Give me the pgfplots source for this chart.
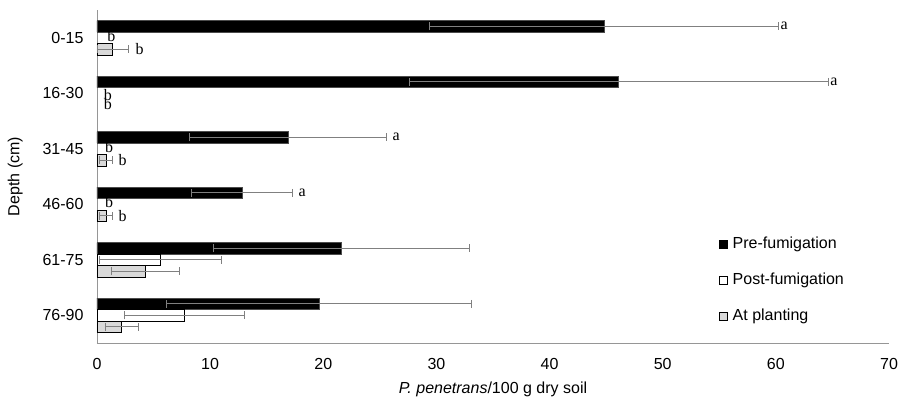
\documentclass[border=0pt]{standalone}
\usepackage{fontspec}
\setmainfont{Liberation Sans}
\newfontfamily\serifletters{Liberation Serif}
\usepackage{pgfplots}
\usepackage{pgfplotstable}
\pgfplotsset{compat=1.18}
\definecolor{errgray}{RGB}{128,128,128}
\definecolor{axgray}{RGB}{150,150,150}
\definecolor{plantgray}{RGB}{217,217,217}
% zero-valued bars (post-fumigation 0-60 cm, at planting 16-30 cm) are omitted
\pgfplotstableread{
y v e
0 44.8 15.4
1 46.1 18.5
2 16.9 8.7
3 12.8 4.5
4 21.6 11.3
5 19.6 13.5
}\pre
\pgfplotstableread{
y v e
4 5.6 5.4
5 7.7 5.3
}\post
\pgfplotstableread{
y v e
0 1.4 1.4
2 0.8 0.6
3 0.8 0.6
4 4.3 3.0
5 2.2 1.5
}\plant
\begin{document}
\fontsize{16}{19}\selectfont
\begin{tikzpicture}
\begin{axis}[
  scale only axis, width=792pt, height=333pt,
  xmin=0, xmax=70, ymin=-0.5, ymax=5.5, y dir=reverse,
  xbar, bar width=11.5pt,
  axis x line=bottom, axis y line=left,
  axis line style={axgray, line width=0.8pt, -},
  xtick={0,10,...,70}, major tick length=0pt,
  ytick={0,...,5}, yticklabels={0-15,16-30,31-45,46-60,61-75,76-90},
  tick label style={font=\fontsize{16}{19}\selectfont},
  /pgf/number format/assume math mode=true,
  xticklabel style={yshift=-10pt},
  yticklabel style={xshift=-8pt},
  xlabel={\textit{P. penetrans}/100 g dry soil},
  xlabel style={font=\fontsize{16}{19}\selectfont, yshift=-1pt},
  ylabel={Depth (cm)},
  ylabel style={font=\fontsize{16}{19}\selectfont, yshift=9pt},
  legend style={draw=none, fill=none, at={(0.785,0.325)}, anchor=north west,
    font=\fontsize{16}{19}\selectfont, row sep=18pt, inner sep=0pt,
    /tikz/every odd column/.append style={column sep=3pt}},
  legend cell align=left,
  error bars/error bar style={errgray, line width=0.8pt},
  error bars/error mark options={errgray, line width=0.8pt, mark size=4pt, rotate=90},
]
\addplot[fill=black, draw=black!70, bar shift=11.5pt,
  legend image code/.code={\draw[fill=black,draw=black] (0pt,-4pt) rectangle (8pt,4pt);},
  error bars/.cd, x dir=both, x explicit]
  table[x=v, y=y, x error=e] {\pre};
\addlegendentry{Pre-fumigation}
\addplot[fill=white, draw=black, line width=0.8pt, bar shift=0pt,
  legend image code/.code={\draw[fill=white,draw=black,line width=0.8pt] (0pt,-4pt) rectangle (8pt,4pt);},
  error bars/.cd, x dir=both, x explicit]
  table[x=v, y=y, x error=e] {\post};
\addlegendentry{Post-fumigation}
\addplot[fill=plantgray, draw=black, line width=0.8pt, bar shift=-11.5pt,
  legend image code/.code={\draw[fill=plantgray,draw=black,line width=0.8pt] (0pt,-4pt) rectangle (8pt,4pt);},
  error bars/.cd, x dir=both, x explicit]
  table[x=v, y=y, x error=e] {\plant};
\addlegendentry{At planting}
\begin{scope}[every node/.style={font=\serifletters\fontsize{16}{18}\selectfont, anchor=west, inner sep=0pt}]
\node at ([yshift=11.5pt]axis cs:60.4,0) {a};
\node at ([yshift=2pt]axis cs:0.9,0) {b};
\node at ([yshift=-11.5pt]axis cs:3.4,0) {b};
\node at ([yshift=11.5pt]axis cs:64.8,1) {a};
\node at ([yshift=-2pt]axis cs:0.6,1) {b};
\node at ([yshift=-11pt]axis cs:0.6,1) {b};
\node at ([yshift=11.5pt]axis cs:26.1,2) {a};
\node at ([yshift=2pt]axis cs:0.7,2) {b};
\node at ([yshift=-11.5pt]axis cs:1.9,2) {b};
\node at ([yshift=11.5pt]axis cs:17.8,3) {a};
\node at ([yshift=2pt]axis cs:0.7,3) {b};
\node at ([yshift=-11.5pt]axis cs:1.9,3) {b};
\end{scope}
\coordinate (bl) at (axis description cs:0,0);
\coordinate (tr) at (axis description cs:1,1);
\end{axis}
\pgfresetboundingbox
\path ([shift={(-97pt,-53pt)}]bl) rectangle ([shift={(17pt,10pt)}]tr);
\end{tikzpicture}
\end{document}
